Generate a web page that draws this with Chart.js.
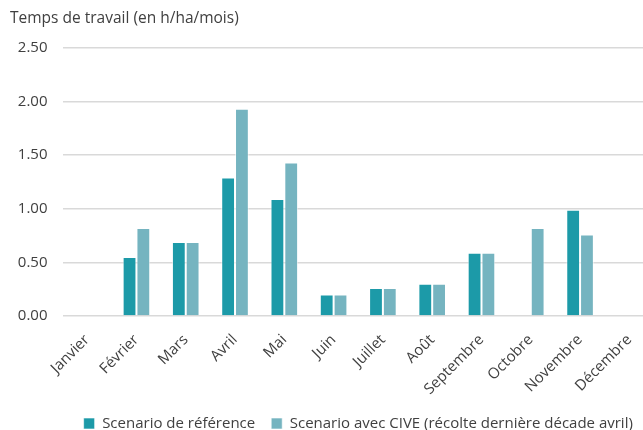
<!DOCTYPE html>
<html>
<head>
<meta charset="utf-8">
<script src="https://cdn.jsdelivr.net/npm/chart.js@4"></script>
<style>
  html, body { margin: 0; padding: 0; background: #fff; overflow: hidden; width: 643px; height: 430px; }
  #wrap { width: 655px; height: 441px; }
</style>
</head>
<body>
<div id="wrap"><canvas id="travail" width="655" height="441"></canvas></div>
<script>
// temps de travail mensuel (h/ha/mois)
var mois = ['Janvier', 'Février', 'Mars', 'Avril', 'Mai', 'Juin', 'Juillet', 'Août', 'Septembre', 'Octobre', 'Novembre', 'Décembre'];
var scenarioReference = [0, 0.55, 0.69, 1.29, 1.09, 0.20, 0.26, 0.30, 0.59, 0, 0.99, 0];
var scenarioCive = [0, 0.82, 0.69, 1.93, 1.43, 0.20, 0.26, 0.30, 0.59, 0.82, 0.76, 0];
var yTicks = [0, 0.5, 1, 1.5, 2, 2.5];

var police = "'Open Sans', sans-serif";
var gris = '#404040';

var ctx = document.getElementById('travail');
var myChart = new Chart(ctx, {
	type: 'bar',
	data: {
		labels: mois,
		datasets: [{
			label: 'Scenario de référence',
			data: scenarioReference,
			backgroundColor: '#1c9aa8',
			borderColor: 'rgba(255,255,255,0.6)',
			borderWidth: 1,
			categoryPercentage: 0.56,
			barPercentage: 1
		}, {
			label: 'Scenario avec CIVE (récolte dernière décade avril)',
			data: scenarioCive,
			backgroundColor: '#75b4c0',
			borderColor: 'rgba(255,255,255,0.6)',
			borderWidth: 1,
			categoryPercentage: 0.56,
			barPercentage: 1
		}]
	},
	options: {
		responsive: false,
		animation: false,
		layout: { padding: { left: 10, right: 1, top: 4, bottom: 0 } },
		scales: {
			x: {
				grid: { display: false },
				border: { display: false },
				afterFit: function (axis) { axis.height = 84; },
				ticks: {
					color: gris,
					font: { family: police, size: 15 },
					maxRotation: 45,
					minRotation: 45,
					padding: 7
				}
			},
			y: {
				min: 0,
				max: 2.5,
				afterBuildTicks: function (axis) {
					axis.ticks = yTicks.map(function (v) { return { value: v }; });
				},
				afterFit: function (axis) { axis.width = 52.5; },
				grid: { color: '#d9d9d9', lineWidth: 1.5, drawTicks: false },
				border: { display: false },
				ticks: {
					color: gris,
					font: { family: police, size: 15 },
					padding: 15,
					callback: function (v) { return v.toFixed(2); }
				}
			}
		},
		plugins: {
			title: {
				display: true,
				text: 'Temps de travail (en h/ha/mois)',
				align: 'start',
				color: gris,
				font: { family: police, size: 15.5, weight: 'normal' },
				padding: { top: 5, bottom: 20 }
			},
			legend: {
				position: 'bottom',
				fullSize: false,
				labels: {
					color: gris,
					font: { family: police, size: 15 },
					boxWidth: 11,
					boxHeight: 11,
					padding: 16
				}
			},
			tooltip: { enabled: false }
		}
	}
});
</script>
</body>
</html>
